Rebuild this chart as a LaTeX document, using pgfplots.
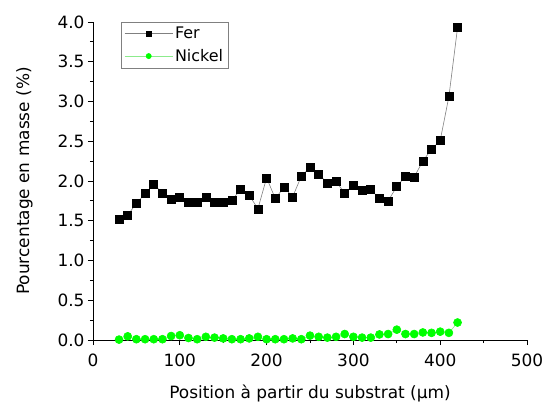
\documentclass[border=0pt]{standalone}
\usepackage{fontspec}
\setmainfont{DejaVu Sans}
\usepackage{pgfplots}
\pgfplotsset{compat=1.18}

\definecolor{nigreen}{RGB}{0,255,0}
\definecolor{nilight}{RGB}{140,235,140}

\begin{document}
\begin{tikzpicture}
	\begin{axis}[
		width=434bp, height=318bp, scale only axis,
		xmin=0, xmax=500, ymin=0, ymax=4,
		axis x line*=bottom, axis y line*=left,
		axis line style={-, line width=0.8bp},
		xtick={0,100,...,500}, minor x tick num=1,
		ytick={0,0.5,...,4}, minor y tick num=1,
		tick align=outside,
		major tick length=5bp, minor tick length=3bp,
		every tick/.style={black, line width=0.8bp},
		/pgf/number format/assume math mode=true,
		yticklabel style={/pgf/number format/fixed, /pgf/number format/fixed zerofill, /pgf/number format/precision=1},
		xticklabel style={yshift=-5bp},
		tick label style={font=\fontsize{17}{20}\selectfont},
		label style={font=\fontsize{17}{20}\selectfont},
		xlabel style={yshift=-12bp},
		ylabel style={yshift=18bp},
		xlabel={Position à partir du substrat (µm)},
		ylabel={Pourcentage en masse (\%)},
		legend style={at={(0.065,1)}, anchor=north west, draw=gray,
			font=\fontsize{16}{19}\selectfont, inner sep=3bp,
			row sep=5bp},
		legend cell align=left,
		legend image code/.code={\draw[#1, mark repeat=2, mark phase=2]
			plot coordinates {(0bp,0bp) (24bp,0bp) (48bp,0bp)};},
		legend image post style={mark size=2.6bp},
		]
		\addplot[gray, line width=0.6bp, mark=square*, mark size=4bp,
			mark options={black}] coordinates {
			(30,1.52) (40,1.57) (50,1.72) (60,1.84) (70,1.96)
			(80,1.85) (90,1.77) (100,1.79) (110,1.73) (120,1.73)
			(130,1.80) (140,1.73) (150,1.73) (160,1.76) (170,1.89)
			(180,1.82) (190,1.65) (200,2.04) (210,1.78) (220,1.92)
			(230,1.80) (240,2.06) (250,2.17) (260,2.09) (270,1.97)
			(280,1.99) (290,1.85) (300,1.95) (310,1.88) (320,1.89)
			(330,1.78) (340,1.75) (350,1.93) (360,2.06) (370,2.05)
			(380,2.25) (390,2.40) (400,2.51) (410,3.06) (420,3.93)
		};
		\addlegendentry{Fer}
		\addplot[nilight, line width=0.6bp, mark=*, mark size=4bp,
			mark options={nigreen}] coordinates {
			(30,0.005) (40,0.046) (50,0.01) (60,0.01) (70,0.01)
			(80,0.01) (90,0.05) (100,0.06) (110,0.025) (120,0.01)
			(130,0.04) (140,0.03) (150,0.02) (160,0.01) (170,0.01)
			(180,0.02) (190,0.04) (200,0.01) (210,0.01) (220,0.01)
			(230,0.02) (240,0.01) (250,0.055) (260,0.04) (270,0.03)
			(280,0.04) (290,0.075) (300,0.04) (310,0.03) (320,0.03)
			(330,0.07) (340,0.075) (350,0.13) (360,0.075) (370,0.075)
			(380,0.095) (390,0.09) (400,0.105) (410,0.09) (420,0.22)
		};
		\addlegendentry{Nickel}
	\end{axis}
	\pgfresetboundingbox
	\path ([shift={(-93bp,-67bp)}]current axis.south west) rectangle ([shift={(16bp,22bp)}]current axis.north east);
\end{tikzpicture}
\end{document}
